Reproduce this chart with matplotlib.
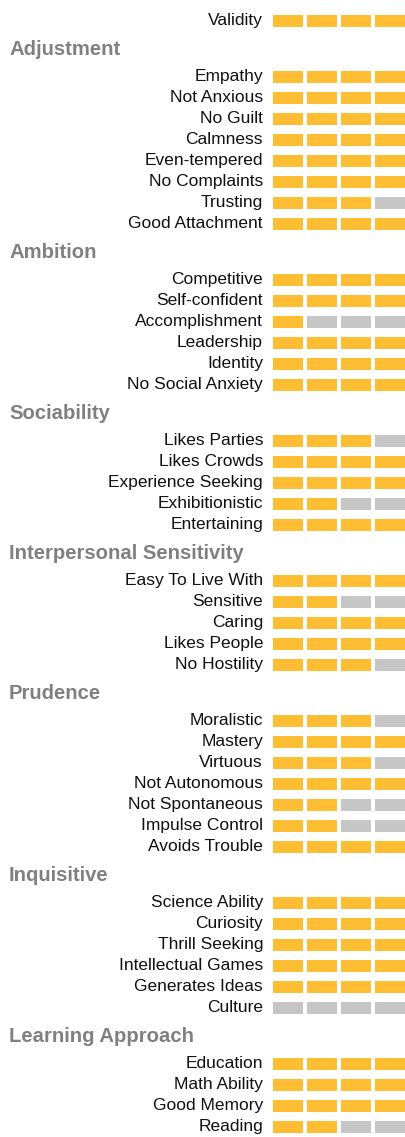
import matplotlib
matplotlib.use("Agg")
import matplotlib.pyplot as plt

plt.rcParams['font.family'] = ['Liberation Sans', 'DejaVu Sans']

# section names, row labels and number of filled segments (out of 4)
sections = ["", "Adjustment", "Ambition", "Sociability", "Interpersonal Sensitivity",
            "Prudence", "Inquisitive", "Learning Approach"]
labels = [
    ["Validity"],
    ["Empathy", "Not Anxious", "No Guilt", "Calmness", "Even-tempered",
     "No Complaints", "Trusting", "Good Attachment"],
    ["Competitive", "Self-confident", "Accomplishment", "Leadership", "Identity",
     "No Social Anxiety"],
    ["Likes Parties", "Likes Crowds", "Experience Seeking", "Exhibitionistic",
     "Entertaining"],
    ["Easy To Live With", "Sensitive", "Caring", "Likes People", "No Hostility"],
    ["Moralistic", "Mastery", "Virtuous", "Not Autonomous", "Not Spontaneous",
     "Impulse Control", "Avoids Trouble"],
    ["Science Ability", "Curiosity", "Thrill Seeking", "Intellectual Games",
     "Generates Ideas", "Culture"],
    ["Education", "Math Ability", "Good Memory", "Reading"],
]
scores = [
    [4],
    [4, 4, 4, 4, 4, 4, 3, 4],
    [4, 4, 1, 4, 4, 4],
    [3, 4, 4, 2, 4],
    [4, 2, 4, 4, 3],
    [3, 4, 3, 4, 2, 2, 4],
    [4, 4, 4, 4, 4, 0],
    [4, 4, 4, 2],
]
n_seg = 4

ON = "#FDBE34"
OFF = "#C6C6C6"

W, H = 405, 1137
fig = plt.figure(figsize=(W / 100, H / 100), dpi=100)
ax = fig.add_axes([0, 0, 1, 1])
ax.set_xlim(0, W)
ax.set_ylim(H, 0)
ax.axis("off")

y = 20.5
row_step = 21
for s, (name, labs, vals) in enumerate(zip(sections, labels, scores)):
    if name:
        y += 56 - row_step
        ax.text(9, y - 27, name, ha="left", va="center", fontsize=14.6,
                fontweight="bold", color="#808080")
    for lab, v in zip(labs, vals):
        ax.text(263, y, lab, ha="right", va="center", fontsize=12.5, color="#111111")
        for i in range(n_seg):
            ax.barh(y, 30, left=273 + i * 34, height=12,
                    color=ON if i < v else OFF, linewidth=0)
        y += row_step

fig.savefig("out.png", dpi=100)
